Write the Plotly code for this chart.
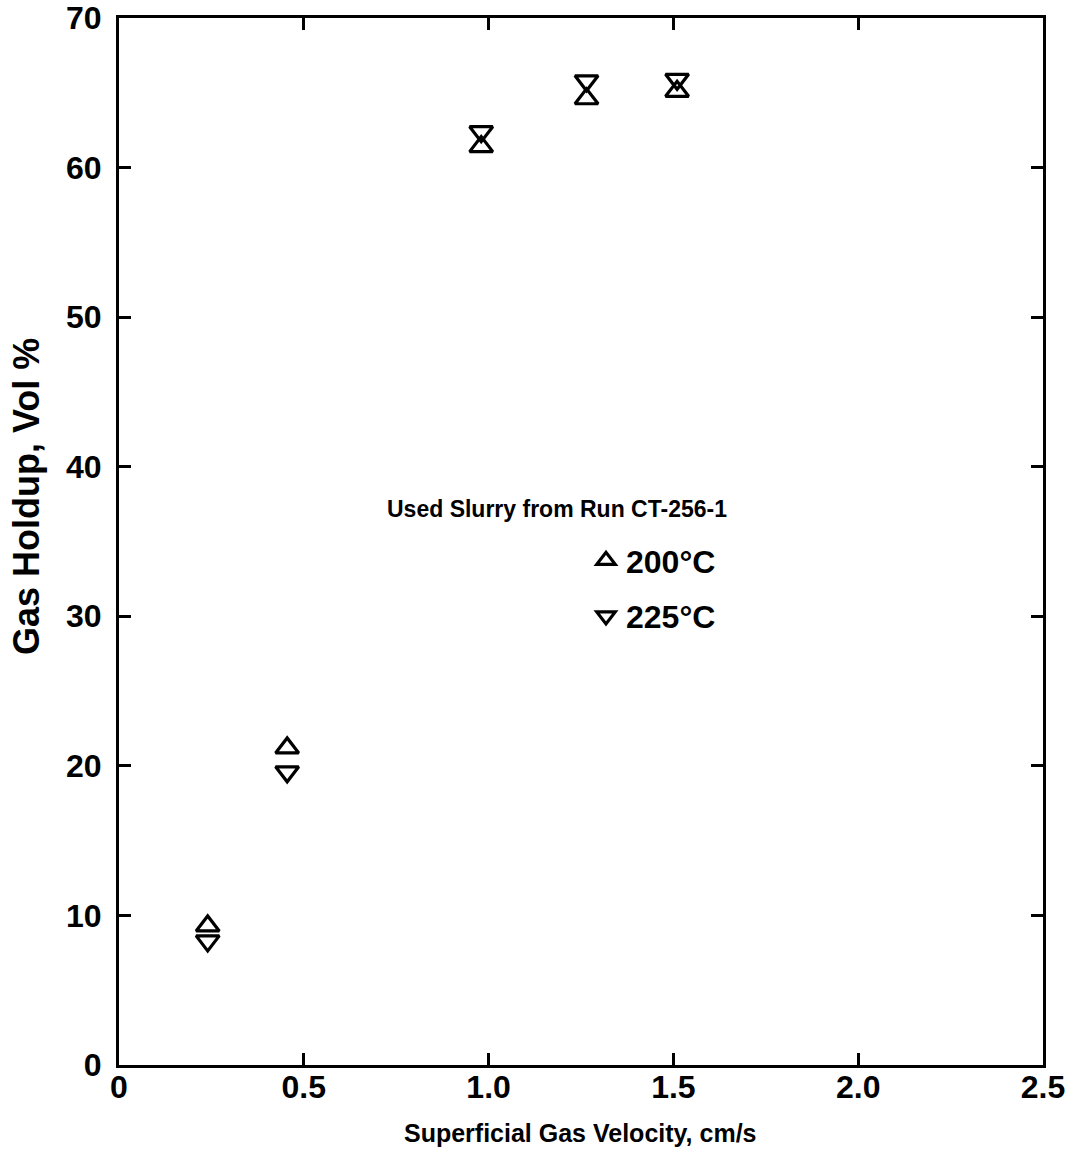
import plotly.graph_objects as go

# Data
velocity = [0.24, 0.455, 0.98, 1.265, 1.51]          # cm/s
holdup_200 = [9.3, 21.2, 61.4, 64.6, 65.1]           # vol %, 200 °C
holdup_225 = [8.3, 19.6, 62.4, 65.8, 65.9]           # vol %, 225 °C

x_tickvals = [0, 0.5, 1.0, 1.5, 2.0, 2.5]
x_ticktext = ["0", "0.5", "1.0", "1.5", "2.0", "2.5"]
y_tickvals = [0, 10, 20, 30, 40, 50, 60, 70]

FONT = "Liberation Sans, Arial, Helvetica, sans-serif"

fig = go.Figure()
fig.add_trace(go.Scatter(
    x=velocity, y=holdup_200, mode="markers", name="200°C",
    legendgroup="a",
    marker=dict(symbol="triangle-up-open", size=20, color="black",
                line=dict(width=3.2, color="black")),
))
fig.add_trace(go.Scatter(
    x=velocity, y=holdup_225, mode="markers", name="225°C",
    legendgroup="b",
    marker=dict(symbol="triangle-down-open", size=20, color="black",
                line=dict(width=3.2, color="black")),
))

axis_common = dict(
    showline=True, linecolor="black", linewidth=3, mirror="ticks",
    ticks="inside", ticklen=12, tickwidth=2.5, tickcolor="black",
    showgrid=False, zeroline=False, automargin=False,
    tickfont=dict(family=FONT, size=32, color="black", weight="bold"),
)

fig.update_xaxes(range=[0, 2.5], tickvals=x_tickvals, ticktext=x_ticktext,
                 ticklabelstandoff=-8, **axis_common)
fig.update_yaxes(range=[0, 70], tickvals=y_tickvals,
                 ticklabelstandoff=8, **axis_common)

fig.add_annotation(text="Superficial Gas Velocity, cm/s", xref="paper", yref="paper",
                   x=0.499, y=-0.065, showarrow=False, xanchor="center", yanchor="middle",
                   font=dict(family=FONT, size=25, color="black", weight="bold"))
fig.add_annotation(text="Gas Holdup, Vol %", xref="paper", yref="paper",
                   x=-0.1006, y=0.5425, showarrow=False, textangle=-90,
                   xanchor="center", yanchor="middle",
                   font=dict(family=FONT, size=36, color="black", weight="bold"))
fig.add_annotation(text="Used Slurry from Run CT-256-1", xref="paper", yref="paper",
                   x=(557 - 119) / 924, y=(1065 - 509) / 1047, showarrow=False,
                   xanchor="center", yanchor="middle",
                   font=dict(family=FONT, size=23, color="black", weight="bold"))

fig.update_layout(
    width=1069, height=1155,
    margin=dict(l=119, r=26, t=18, b=90),
    paper_bgcolor="white", plot_bgcolor="white",
    showlegend=True,
    legend=dict(x=(586 - 119) / 924, y=(1065 - 533) / 1047, xanchor="left", yanchor="top",
                bgcolor="rgba(0,0,0,0)", tracegroupgap=11, traceorder="grouped",
                font=dict(family=FONT, size=32, color="black", weight="bold")),
)

fig.write_html("out.html")
